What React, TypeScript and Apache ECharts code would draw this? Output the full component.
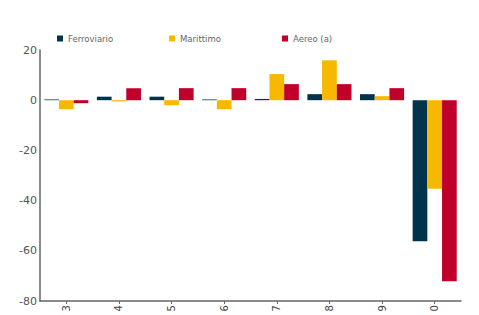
import React, { useEffect, useRef } from "react";
import * as echarts from "echarts";

const categories = ["3", "4", "5", "6", "7", "8", "9", "0"];
const ferroviario = [0.3, 1.4, 1.4, 0.3, 0.5, 2.4, 2.4, -56.2];
const marittimo = [-3.6, -0.5, -2.0, -3.6, 10.4, 15.9, 1.6, -35.3];
const aereo = [-1.2, 4.8, 4.8, 4.8, 6.4, 6.4, 4.8, -72.1];
const seriesNames = ["Ferroviario", "Marittimo", "Aereo (a)"];
const colors = ["#00344d", "#f8b800", "#c0002b"];

export default function App() {
  const ref = useRef<HTMLDivElement>(null);
  useEffect(() => {
    const chart = echarts.init(ref.current!, null, { renderer: "svg" });
    const font = "DejaVu Sans";
    const legendBase = {
      top: 29,
      itemWidth: 6,
      itemHeight: 6,
      icon: "rect",
      textStyle: { color: "#666", fontSize: 8.5, fontFamily: font },
      itemGap: 6,
    };
    const datas = [ferroviario, marittimo, aereo];
    chart.setOption({
      animation: false,
      color: colors,
      legend: [
        { ...legendBase, left: 52, data: [seriesNames[0]] },
        { ...legendBase, left: 164, data: [seriesNames[1]] },
        { ...legendBase, left: 277, data: [seriesNames[2]] },
      ],
      grid: { left: 40, right: 18, top: 50, bottom: 14, containLabel: false },
      xAxis: {
        type: "category",
        data: categories,
        axisLine: { onZero: false, lineStyle: { color: "#666", width: 1.5 } },
        axisTick: { show: true, alignWithLabel: true, length: 3, lineStyle: { color: "#666" } },
        axisLabel: { rotate: 90, margin: 4, color: "#444", fontSize: 10, fontFamily: font },
      },
      yAxis: {
        type: "value",
        min: -80,
        max: 20,
        interval: 20,
        axisLine: { show: true, lineStyle: { color: "#666", width: 1.5 } },
        axisTick: { show: false },
        splitLine: { show: false },
        axisLabel: { color: "#555", fontSize: 11, fontFamily: font, margin: 3 },
      },
      series: datas.map((d, i) => ({
        name: seriesNames[i],
        type: "bar",
        data: d,
        barWidth: 14.7,
        barGap: "0%",
        itemStyle: { color: colors[i] },
      })),
    });
    return () => chart.dispose();
  }, []);
  return <div ref={ref} style={{ width: 479, height: 315, position: "absolute", left: 0, top: 0 }} />;
}
